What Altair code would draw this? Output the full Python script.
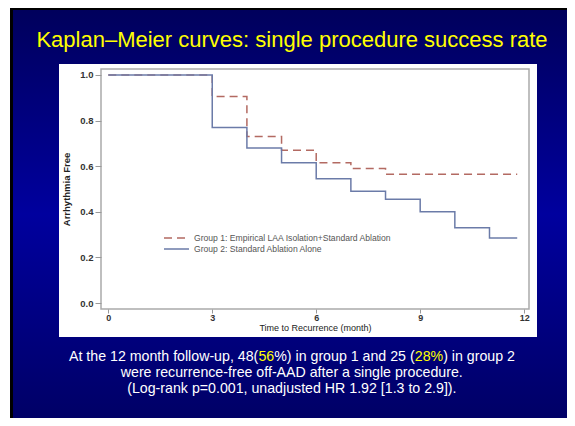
import altair as alt
import pandas as pd

# ---------------- data ----------------
title_text = "Kaplan\u2013Meier curves: single procedure success rate"
group_labels = ["Group 1: Empirical LAA Isolation+Standard Ablation",
                "Group 2: Standard Ablation Alone"]
g1_time = [0, 3, 4, 5, 6, 7, 8, 11.8]
g1_surv = [1.0, 0.905, 0.73, 0.67, 0.615, 0.59, 0.565, 0.565]
g2_time = [0, 3, 4, 5, 6, 7, 8, 9, 10, 11, 11.8]
g2_surv = [1.0, 0.77, 0.68, 0.615, 0.545, 0.49, 0.455, 0.40, 0.33, 0.285, 0.285]
x_ticks = [0, 3, 6, 9, 12]
y_ticks = [0.0, 0.2, 0.4, 0.6, 0.8, 1.0]
caption_lines = [
    [("At the 12 month follow-up, 48(", "white"), ("56", "yellow"),
     ("%) in group 1 and 25 (", "white"), ("28%", "yellow"), (") in group 2", "white")],
    [("were recurrence-free off-AAD after a single procedure.", "white")],
    [("(Log-rank p=0.001, unadjusted HR 1.92 [1.3 to 2.9]).", "white")],
]

# ---------------- helpers ----------------
FONT = "Liberation Sans"
W = {' ': 278, '!': 278, '%': 889, '(': 333, ')': 333, ',': 278, '-': 333, '.': 278,
     '/': 278, ':': 278, '=': 584, '[': 278, ']': 278, '+': 584, '\u2013': 556}
for d in "0123456789":
    W[d] = 556
W.update({'A': 667, 'B': 667, 'C': 722, 'D': 722, 'E': 667, 'F': 611, 'G': 778, 'H': 722,
          'I': 278, 'J': 500, 'K': 667, 'L': 556, 'M': 833, 'N': 722, 'O': 778, 'P': 667,
          'Q': 778, 'R': 722, 'S': 667, 'T': 611, 'U': 722, 'V': 667, 'W': 944, 'X': 667,
          'Y': 667, 'Z': 611, 'a': 556, 'b': 556, 'c': 500, 'd': 556, 'e': 556, 'f': 278,
          'g': 556, 'h': 556, 'i': 222, 'j': 222, 'k': 500, 'l': 222, 'm': 833, 'n': 556,
          'o': 556, 'p': 556, 'q': 556, 'r': 333, 's': 500, 't': 278, 'u': 556, 'v': 500,
          'w': 722, 'x': 500, 'y': 500, 'z': 500})


def text_width(s, size):
    return sum(W.get(c, 556) for c in s) * size / 1000.0


dummy = pd.DataFrame({"a": [0]})


def vrect(x, x2, y, y2, **kw):
    return alt.Chart(dummy).mark_rect(**kw).encode(
        x=alt.value(x), x2=alt.value(x2), y=alt.value(y), y2=alt.value(y2))


# ---------------- layers ----------------
PW, PH = 428, 240

black = vrect(-91, 470, -61, 349, color="black")
blue = vrect(-88, 470, -59, 349, fill=alt.Gradient(
    gradient="linear", x1=0, x2=0, y1=0, y2=1,
    stops=[alt.GradientStop(color="#00005c", offset=0),
           alt.GradientStop(color="#00009e", offset=0.5),
           alt.GradientStop(color="#000066", offset=1)]))
panel = vrect(-42, 436, -5, 268, color="white")
frame = vrect(0, PW, 0, PH, filled=False, stroke="#ababab", strokeWidth=1.5)

df = pd.concat([
    pd.DataFrame({"time": g1_time, "surv": g1_surv, "group": group_labels[0]}),
    pd.DataFrame({"time": g2_time, "surv": g2_surv, "group": group_labels[1]}),
])

leg = alt.Legend(title=None, orient="none", legendX=69.5, legendY=163, zindex=1)
lines = alt.Chart(df).mark_line(interpolate="step-after", strokeWidth=1.5).encode(
    x=alt.X("time:Q", scale=alt.Scale(domain=[-0.21, 12.14], nice=False, zero=False),
            axis=alt.Axis(values=x_ticks, title="Time to Recurrence (month)", format="d", zindex=1)),
    y=alt.Y("surv:Q", scale=alt.Scale(domain=[-0.026, 1.026], nice=False, zero=False),
            axis=alt.Axis(values=y_ticks, title="Arrhythmia Free", format=".1f", zindex=1)),
    color=alt.Color("group:N", scale=alt.Scale(domain=group_labels, range=["#b36a62", "#6b7ba8"]),
                    legend=leg),
    strokeDash=alt.StrokeDash("group:N", scale=alt.Scale(domain=group_labels, range=[[8, 5], [1, 0]]),
                              legend=leg),
)

title = alt.Chart(dummy).mark_text(text=title_text, font=FONT, fontSize=22, color="#ffff00",
                                   align="center", baseline="middle").encode(
    x=alt.value(191), y=alt.value(-29))

caption_layers = []
cap_size = 14.2
cap_y = [288, 304, 320]
for line, yy in zip(caption_lines, cap_y):
    total = sum(text_width(s, cap_size) for s, _ in line)
    x0 = 191 - total / 2.0
    for seg, col in line:
        c = "#ffff00" if col == "yellow" else "#ffffff"
        caption_layers.append(
            alt.Chart(dummy).mark_text(text=seg, font=FONT, fontSize=cap_size, color=c,
                                       align="left", baseline="middle").encode(
                x=alt.value(round(x0, 2)), y=alt.value(yy)))
        x0 += text_width(seg, cap_size)

chart = alt.layer(black, blue, panel, frame, lines, title, *caption_layers).properties(
    width=PW, height=PH,
    autosize=alt.AutoSizeParams(type="none"),
    padding={"left": 93, "top": 61, "right": 38, "bottom": 109},
    background="white",
).configure_view(strokeWidth=0).configure_axis(
    grid=False, domain=False,
    tickColor="#999999", tickWidth=1,
    labelFont=FONT, labelFontSize=9.5, labelFontWeight="bold", labelColor="#333333",
    titleFont=FONT, titleColor="#222222",
).configure_axisY(
    tickSize=6, titleFontSize=9.5, titleFontWeight="bold", titlePadding=8, labelPadding=2,
).configure_axisX(
    tickSize=4, labelFontSize=9, titleFontSize=9, titleFontWeight="normal",
    titlePadding=1, labelPadding=0,
).configure_legend(
    symbolType="M-2.5,0H2.5", symbolSize=100, symbolStrokeWidth=1.5,
    labelFont=FONT, labelFontSize=8.6, labelColor="#555555", labelOffset=11.5, labelLimit=0,
    rowPadding=0, padding=0, symbolOffset=0,
)

chart.save("out.html", embed_options={"renderer": "svg", "actions": False})
